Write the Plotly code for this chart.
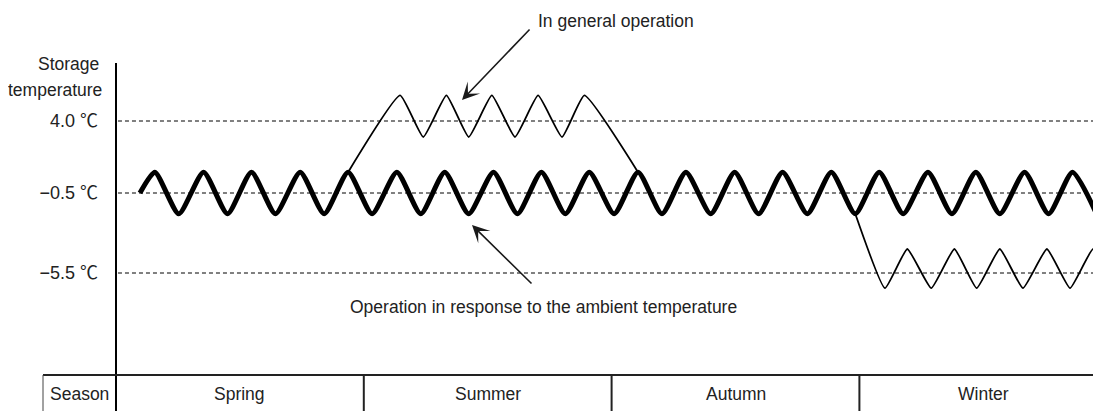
import plotly.graph_objects as go

# ---------------- data (x in months from start of spring, y in deg C) ----------------
seasons = ["Spring", "Summer", "Autumn", "Winter"]
season_bounds = [0, 3, 6, 9, 12]
ref_levels = [4.0, -0.5, -5.5]
ref_labels = ["4.0 ℃", "−0.5 ℃", "−5.5 ℃"]

# Operation in response to the ambient temperature (thick line)
ambient_x = [0.29, 0.47, 0.76, 1.06, 1.35, 1.64, 1.93, 2.23, 2.52, 2.81, 3.10,
             3.40, 3.69, 3.98, 4.27, 4.57, 4.86, 5.15, 5.44, 5.73, 6.03,
             6.32, 6.61, 6.90, 7.20, 7.49, 7.78, 8.07, 8.37, 8.66, 8.95,
             9.24, 9.53, 9.83, 10.12, 10.41, 10.70, 11.00, 11.29, 11.58, 11.87]
ambient_y = [-0.5, 0.8, -1.8, 0.8, -1.8, 0.8, -1.8, 0.8, -1.8, 0.8, -1.8,
             0.8, -1.8, 0.8, -1.8, 0.8, -1.8, 0.8, -1.8, 0.8, -1.8,
             0.8, -1.8, 0.8, -1.8, 0.8, -1.8, 0.8, -1.8, 0.8, -1.8,
             0.8, -1.8, 0.8, -1.8, 0.8, -1.8, 0.8, -1.8, 0.8, -1.8]

# In general operation (thin line) - summer excursion
general_summer_x = [2.81, 3.44, 3.72, 4.00, 4.27, 4.55, 4.83, 5.11, 5.40, 5.67, 6.32]
general_summer_y = [0.8, 5.6, 3.0, 5.6, 3.0, 5.6, 3.0, 5.6, 3.0, 5.6, 0.8]

# In general operation (thin line) - winter excursion
general_winter_x = [8.95, 9.31, 9.58, 9.87, 10.15, 10.42, 10.70, 10.98, 11.27, 11.55, 11.83, 12.11]
general_winter_y = [-1.8, -6.45, -4.0, -6.45, -4.0, -6.45, -4.0, -6.45, -4.0, -6.45, -4.0, -6.45]

# ---------------- layout helpers (page pixel coordinates) ----------------
PAGE_W, PAGE_H = 1101, 411
BODY = 8                      # default page margin around the figure
L, R, T, B = 116, 1101, 63, 375   # plot area in page pixels
FONT = "Liberation Sans, Arial, Noto Sans CJK JP, sans-serif"
TXT = "#222222"
FS = 17.5


def px_x(px):
    return (px - L) / (R - L)


def px_y(py):
    return (B - py) / (B - T)


fig = go.Figure()

fig.add_trace(go.Scatter(x=ambient_x, y=ambient_y, mode="lines",
                         line=dict(color="black", width=5, shape="spline", smoothing=0.6),
                         hoverinfo="skip", showlegend=False))
fig.add_trace(go.Scatter(x=general_summer_x, y=general_summer_y, mode="lines",
                         line=dict(color="black", width=1.8, shape="spline", smoothing=0.4),
                         hoverinfo="skip", showlegend=False))
fig.add_trace(go.Scatter(x=general_winter_x, y=general_winter_y, mode="lines",
                         line=dict(color="black", width=1.8, shape="spline", smoothing=0.4),
                         hoverinfo="skip", showlegend=False))

shapes = []
for lv in ref_levels:
    shapes.append(dict(type="line", xref="paper", yref="y", x0=0.002, x1=1, y0=lv, y1=lv,
                       line=dict(color="black", width=1, dash="4px,3px"), layer="below"))
shapes.append(dict(type="line", xref="paper", yref="paper", x0=0, x1=0, y0=1, y1=px_y(420),
                   line=dict(color="black", width=2)))
shapes.append(dict(type="line", xref="paper", yref="paper", x0=px_x(43), x1=1, y0=0, y1=0,
                   line=dict(color="#222", width=2)))
shapes.append(dict(type="line", xref="paper", yref="paper", x0=px_x(43), x1=px_x(43), y0=0, y1=px_y(420),
                   line=dict(color="#444", width=1)))
for b in season_bounds[1:-1]:
    shapes.append(dict(type="line", xref="x", yref="paper", x0=b, x1=b, y0=0, y1=px_y(420),
                       line=dict(color="#222", width=2)))


def txt(text, x, y, xref="paper", xanchor="center"):
    return dict(text=text, xref=xref, yref="paper", x=x, y=y, xanchor=xanchor, yanchor="middle",
                showarrow=False, font=dict(size=FS, color=TXT, family=FONT))


annotations = [txt("Season", px_x(79), px_y(394))]
for i, s in enumerate(seasons):
    annotations.append(txt(s, (season_bounds[i] + season_bounds[i + 1]) / 2, px_y(394), xref="x"))
annotations.append(txt("Storage", px_x(101), px_y(64), xanchor="right"))
annotations.append(txt("temperature", px_x(104), px_y(90), xanchor="right"))
annotations.append(txt("In general operation", px_x(536), px_y(21), xanchor="left"))
annotations.append(txt("Operation in response to the ambient temperature", px_x(543), px_y(307)))
annotations.append(dict(text="", xref="paper", yref="paper", x=px_x(462), y=px_y(100),
                        ax=531 - 462, ay=28 - 100, showarrow=True, arrowhead=3, arrowsize=1.8,
                        arrowwidth=1.6, arrowcolor="#1a1a1a"))
annotations.append(dict(text="", xref="paper", yref="paper", x=px_x(472), y=px_y(225),
                        ax=533 - 472, ay=285 - 225, showarrow=True, arrowhead=3, arrowsize=1.8,
                        arrowwidth=1.6, arrowcolor="#1a1a1a"))

fig.update_layout(
    width=PAGE_W - BODY, height=PAGE_H - BODY,
    margin=dict(l=L - BODY, r=PAGE_W - R, t=T - BODY, b=PAGE_H - B),
    paper_bgcolor="white", plot_bgcolor="white",
    shapes=shapes, annotations=annotations,
    hovermode=False,
    xaxis=dict(range=[0, 11.925], showgrid=False, zeroline=False, showline=False,
               showticklabels=False, ticks=""),
    yaxis=dict(range=[-11.875, 7.625], showgrid=False, zeroline=False, showline=False,
               tickvals=ref_levels, ticktext=ref_labels, ticks="",
               tickfont=dict(size=18, color=TXT, family=FONT), ticklabelstandoff=17),
)

fig.write_html("out.html", config={"displayModeBar": False})
